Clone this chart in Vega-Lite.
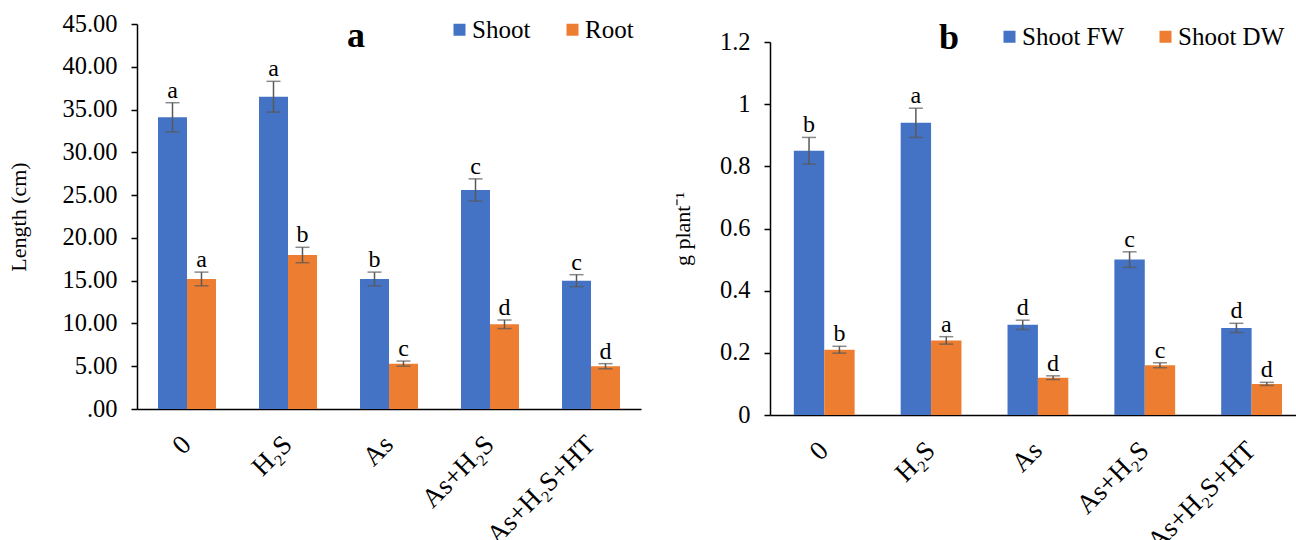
{
  "$schema": "https://vega.github.io/schema/vega-lite/v6.json",
  "background": "white",
  "padding": {"left": 7, "top": 11, "right": 0, "bottom": 0},
  "bounds": "flush",
  "spacing": 129,
  "config": {
    "view": {"stroke": null},
    "font": "Liberation Serif",
    "axis": {"grid": false, "domainColor": "black", "domainWidth": 1.5, "tickColor": "black", "tickWidth": 1.5, "labelColor": "black", "titleColor": "black", "labelFont": "Liberation Serif", "titleFont": "Liberation Serif", "titleFontWeight": "normal"},
    "legend": {"labelFont": "Liberation Serif", "labelFontSize": 25, "labelColor": "black", "symbolType": "square", "symbolSize": 144, "symbolStrokeWidth": 0, "labelOffset": 0, "padding": 0, "orient": "none", "direction": "horizontal"}
  },
  "resolve": {"scale": {"x": "independent", "y": "independent", "xOffset": "independent", "color": "independent"}, "legend": {"color": "independent"}},
  "datasets": {
    "lengths": [
      {"t": "0", "s": "Shoot", "v": 34.1, "lo": 32.4, "hi": 35.8, "letter": "a"},
      {"t": "0", "s": "Root", "v": 15.2, "lo": 14.4, "hi": 16.0, "letter": "a"},
      {"t": "H₂S", "s": "Shoot", "v": 36.5, "lo": 34.7, "hi": 38.3, "letter": "a"},
      {"t": "H₂S", "s": "Root", "v": 18.0, "lo": 17.1, "hi": 18.9, "letter": "b"},
      {"t": "As", "s": "Shoot", "v": 15.2, "lo": 14.4, "hi": 16.0, "letter": "b"},
      {"t": "As", "s": "Root", "v": 5.3, "lo": 5.0, "hi": 5.6, "letter": "c"},
      {"t": "As+H₂S", "s": "Shoot", "v": 25.6, "lo": 24.3, "hi": 26.9, "letter": "c"},
      {"t": "As+H₂S", "s": "Root", "v": 9.9, "lo": 9.4, "hi": 10.4, "letter": "d"},
      {"t": "As+H₂S+HT", "s": "Shoot", "v": 15.0, "lo": 14.3, "hi": 15.7, "letter": "c"},
      {"t": "As+H₂S+HT", "s": "Root", "v": 5.0, "lo": 4.7, "hi": 5.3, "letter": "d"}
    ],
    "weights": [
      {"t": "0", "s": "Shoot FW", "v": 0.85, "lo": 0.807, "hi": 0.893, "letter": "b"},
      {"t": "0", "s": "Shoot DW", "v": 0.21, "lo": 0.199, "hi": 0.221, "letter": "b"},
      {"t": "H₂S", "s": "Shoot FW", "v": 0.94, "lo": 0.893, "hi": 0.987, "letter": "a"},
      {"t": "H₂S", "s": "Shoot DW", "v": 0.24, "lo": 0.228, "hi": 0.252, "letter": "a"},
      {"t": "As", "s": "Shoot FW", "v": 0.29, "lo": 0.275, "hi": 0.305, "letter": "d"},
      {"t": "As", "s": "Shoot DW", "v": 0.12, "lo": 0.114, "hi": 0.126, "letter": "d"},
      {"t": "As+H₂S", "s": "Shoot FW", "v": 0.50, "lo": 0.475, "hi": 0.525, "letter": "c"},
      {"t": "As+H₂S", "s": "Shoot DW", "v": 0.16, "lo": 0.152, "hi": 0.168, "letter": "c"},
      {"t": "As+H₂S+HT", "s": "Shoot FW", "v": 0.28, "lo": 0.265, "hi": 0.295, "letter": "d"},
      {"t": "As+H₂S+HT", "s": "Shoot DW", "v": 0.10, "lo": 0.095, "hi": 0.105, "letter": "d"}
    ]
  },
  "hconcat": [
    {
      "width": 504,
      "height": 385,
      "data": {"name": "lengths"},
      "encoding": {
        "x": {"field": "t", "type": "nominal", "sort": ["0", "H₂S", "As", "As+H₂S", "As+H₂S+HT"],
              "scale": {"paddingInner": 0.426, "paddingOuter": 0.208},
              "axis": {"title": null, "labelAngle": -45, "labelAlign": "right", "labelBaseline": "middle", "labelPadding": 31, "ticks": false, "labelFontSize": 27}}
      },
      "layer": [
        {
          "mark": {"type": "bar"},
          "encoding": {
            "xOffset": {"field": "s", "type": "nominal", "sort": ["Shoot", "Root"], "scale": {"paddingInner": 0, "paddingOuter": 0}},
            "y": {"field": "v", "type": "quantitative", "scale": {"domain": [0, 45], "nice": false},
                  "axis": {"title": "Length (cm)", "titleFontSize": 22, "titlePadding": 31, "values": [0, 5, 10, 15, 20, 25, 30, 35, 40, 45], "labelExpr": "datum.value == 0 ? '.00' : format(datum.value, '.2f')", "labelFontSize": 24.5, "labelPadding": 14, "tickSize": 6}},
            "color": {"field": "s", "type": "nominal", "sort": ["Shoot", "Root"], "scale": {"domain": ["Shoot", "Root"], "range": ["#4472C4", "#ED7D31"]},
                      "legend": {"title": null, "legendX": 310, "legendY": -7, "columnPadding": 29}}
          }
        },
        {
          "mark": {"type": "rule", "color": "#595959", "strokeWidth": 1.5},
          "encoding": {"xOffset": {"field": "s", "type": "nominal", "sort": ["Shoot", "Root"]}, "y": {"field": "lo", "type": "quantitative"}, "y2": {"field": "hi"}}
        },
        {
          "mark": {"type": "tick", "color": "#595959", "thickness": 1.5, "size": 14, "orient": "horizontal"},
          "encoding": {"xOffset": {"field": "s", "type": "nominal", "sort": ["Shoot", "Root"]}, "y": {"field": "lo", "type": "quantitative"}}
        },
        {
          "mark": {"type": "tick", "color": "#595959", "thickness": 1.5, "size": 14, "orient": "horizontal"},
          "encoding": {"xOffset": {"field": "s", "type": "nominal", "sort": ["Shoot", "Root"]}, "y": {"field": "hi", "type": "quantitative"}}
        },
        {
          "mark": {"type": "text", "fontSize": 24, "font": "Liberation Serif", "baseline": "alphabetic", "dy": -5, "color": "black"},
          "encoding": {"xOffset": {"field": "s", "type": "nominal", "sort": ["Shoot", "Root"]}, "y": {"field": "hi", "type": "quantitative"}, "text": {"field": "letter"}}
        },
        {
          "data": {"values": [{"label": "a"}]},
          "mark": {"type": "text", "fontSize": 36, "fontWeight": "bold", "font": "Liberation Serif", "baseline": "alphabetic", "align": "center", "dx": -33, "dy": 23, "color": "black"},
          "encoding": {"x": {"datum": "As"}, "y": {"datum": 45}, "text": {"field": "label"}}
        }
      ]
    },
    {
      "width": 526,
      "height": 391,
      "data": {"name": "weights"},
      "encoding": {
        "x": {"field": "t", "type": "nominal", "sort": ["0", "H₂S", "As", "As+H₂S", "As+H₂S+HT"],
              "scale": {"paddingInner": 0.431, "paddingOuter": 0.177, "align": 0.63},
              "axis": {"title": null, "labelAngle": -45, "labelAlign": "right", "labelBaseline": "middle", "labelPadding": 31, "ticks": false, "labelFontSize": 27}}
      },
      "layer": [
        {
          "mark": {"type": "bar"},
          "encoding": {
            "xOffset": {"field": "s", "type": "nominal", "sort": ["Shoot FW", "Shoot DW"], "scale": {"paddingInner": 0, "paddingOuter": 0}},
            "y": {"field": "v", "type": "quantitative", "scale": {"domain": [0, 1.2], "nice": false, "range": [391, 18]},
                  "axis": {"title": "g plant⁻¹", "titleFontSize": 22, "titlePadding": 25, "values": [0, 0.2, 0.4, 0.6, 0.8, 1, 1.2], "format": "~g", "labelFontSize": 24.5, "labelPadding": 14, "tickSize": 6}},
            "color": {"field": "s", "type": "nominal", "sort": ["Shoot FW", "Shoot DW"], "scale": {"domain": ["Shoot FW", "Shoot DW"], "range": ["#4472C4", "#ED7D31"]},
                      "legend": {"title": null, "legendX": 227, "legendY": 0, "columnPadding": 28}}
          }
        },
        {
          "mark": {"type": "rule", "color": "#595959", "strokeWidth": 1.5},
          "encoding": {"xOffset": {"field": "s", "type": "nominal", "sort": ["Shoot FW", "Shoot DW"]}, "y": {"field": "lo", "type": "quantitative"}, "y2": {"field": "hi"}}
        },
        {
          "mark": {"type": "tick", "color": "#595959", "thickness": 1.5, "size": 14, "orient": "horizontal"},
          "encoding": {"xOffset": {"field": "s", "type": "nominal", "sort": ["Shoot FW", "Shoot DW"]}, "y": {"field": "lo", "type": "quantitative"}}
        },
        {
          "mark": {"type": "tick", "color": "#595959", "thickness": 1.5, "size": 14, "orient": "horizontal"},
          "encoding": {"xOffset": {"field": "s", "type": "nominal", "sort": ["Shoot FW", "Shoot DW"]}, "y": {"field": "hi", "type": "quantitative"}}
        },
        {
          "mark": {"type": "text", "fontSize": 24, "font": "Liberation Serif", "baseline": "alphabetic", "dy": -5, "color": "black"},
          "encoding": {"xOffset": {"field": "s", "type": "nominal", "sort": ["Shoot FW", "Shoot DW"]}, "y": {"field": "hi", "type": "quantitative"}, "text": {"field": "letter"}}
        },
        {
          "data": {"values": [{"label": "b"}]},
          "mark": {"type": "text", "fontSize": 36, "fontWeight": "bold", "font": "Liberation Serif", "baseline": "alphabetic", "align": "center", "dx": 18, "dy": 7, "color": "black"},
          "encoding": {"x": {"datum": "H₂S"}, "y": {"datum": 1.2}, "text": {"field": "label"}}
        }
      ]
    }
  ]
}
